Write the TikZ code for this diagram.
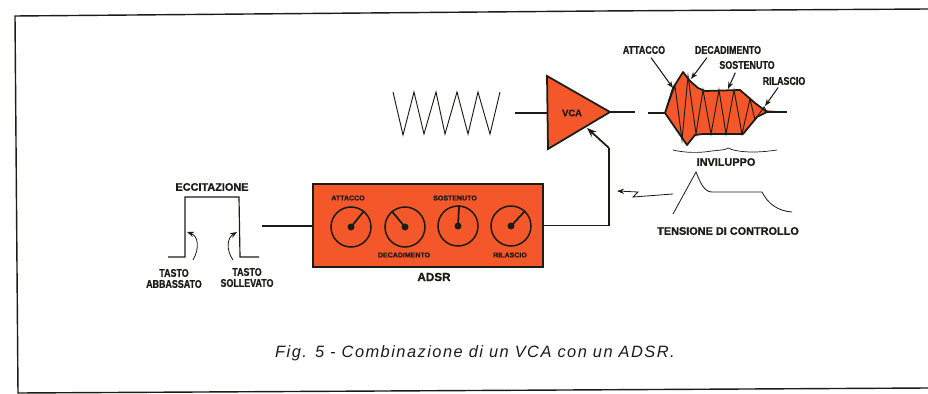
\documentclass[tikz,border=0pt]{standalone}
\usepackage{fontspec}
\setmainfont{Liberation Sans}[BoldFeatures={FakeBold=1}]
\newfontfamily\labelfont{Liberation Sans}[BoldFeatures={FakeStretch=0.8,FakeBold=1}]
\newfontfamily\capfont{Liberation Sans}[LetterSpace=9]
\usepackage{xcolor}
\usetikzlibrary{arrows.meta}
\definecolor{synthred}{HTML}{F4582A}
\definecolor{inkline}{HTML}{1C1C16}
\tikzset{
    wire/.style={draw=inkline, line width=1.5pt},
    thinwire/.style={draw=inkline, line width=0.8pt},
    pointer/.style={draw=inkline, line width=0.9pt, -{Stealth[length=6pt,width=4.5pt]}},
    biglabel/.style={font=\labelfont\bfseries\fontsize{9.5}{10}\selectfont, text=inkline, inner sep=1pt},
    widelabel/.style={font=\bfseries\fontsize{9.3}{10}\selectfont, text=inkline, inner sep=1pt},
    smalllabel/.style={font=\bfseries\fontsize{6}{7}\selectfont, text=inkline, inner sep=1pt},
    dial/.style={circle, draw=inkline, line width=1.3pt, minimum size=1.2cm, inner sep=0pt}
}
\begin{document}
\begin{tikzpicture}[x=0.03cm, y=-0.03cm]
    \useasboundingbox (0,0) rectangle (928,394);
    \draw[wire, line width=1.2pt] (928,9) -- (600,11) -- (15,16) -- (18,393) -- (928,388);
    % oscillator
    \draw[thinwire] (393,92) -- (403,135) -- (414,92) -- (424,134) -- (436,92) -- (445,134) -- (457,92) -- (468,134) -- (478,92) -- (490,134) -- (500,92);
    % vca
    \coordinate (vcaIn) at (515,113);
    \coordinate (vcaLeft) at (548,113);
    \coordinate (vcaTip) at (610,112);
    \coordinate (vcaOut) at (635,112);
    \coordinate (vcaBend) at (609,148);
    \coordinate (vcaCtl) at (587,128);
    \draw[wire] (vcaIn) -- (vcaLeft);
    \draw[wire] (vcaTip) -- (vcaOut);
    \draw[wire, fill=synthred, line join=miter] (547,76) -- (vcaTip) -- (548,149) -- cycle;
    \node[biglabel, font=\bfseries\fontsize{8}{9}\selectfont] (vca) at (572,113) {VCA};
    % envelope
    \coordinate (envIn) at (648,113);
    \coordinate (envStart) at (665,113);
    \coordinate (envEnd) at (767,112);
    \coordinate (envOut) at (787,112);
    \coordinate (envAtk) at (673,88);
    \coordinate (envDec) at (691,79);
    \coordinate (envSus) at (728,89);
    \coordinate (envRel) at (765,106);
    \draw[wire] (envIn) -- (envStart);
    \fill[synthred] (envEnd) -- (envOut) -- (765,110) -- cycle;
    \draw[wire] (envEnd) -- (envOut);
    \draw[wire, fill=synthred, line join=round] (envStart) -- (envAtk) -- (683,72) -- (690,81) -- (698,88) -- (705,91) -- (740,90) -- (755,103) -- (envEnd) -- (757,117) -- (743,134) -- (703,134) -- (695,135) -- (687,145) -- cycle;
    \draw[thinwire] (envStart) -- (675,86) -- (682,140) -- (688,76) -- (696,134) -- (703,90) -- (711,134) -- (719,90) -- (726,134) -- (734,90) -- (742,134) -- (750,99) -- (755,120) -- (764,107) -- (envEnd);
    \node[biglabel] (attaccoLabel) at (644,50) {ATTACCO};
    \node[biglabel] (decadLabel) at (728,50) {DECADIMENTO};
    \node[biglabel] (sostLabel) at (747,65) {SOSTENUTO};
    \node[biglabel] (rilLabel) at (784,81) {RILASCIO};
    \draw[pointer] ([xshift=6pt, yshift=-2pt]attaccoLabel.south) -- (envAtk);
    \draw[pointer] ([xshift=-18pt, yshift=-2pt]decadLabel.south) -- (envDec);
    \draw[pointer] ([xshift=-10pt, yshift=-2pt]sostLabel.south) -- (envSus);
    \draw[pointer] ([xshift=-5pt, yshift=-1pt]rilLabel.south) -- (envRel);
    \draw[thinwire, line width=0.6pt] (673,150) .. controls (685,153) and (700,153) .. (712,151) .. controls (720,150) and (726,150) .. (728,148) .. controls (732,150) and (740,152) .. (753,152) .. controls (762,152) and (770,151) .. (777,150);
    \node[widelabel] (invLabel) at (726,162) {INVILUPPO};
    % control voltage
    \coordinate (ctlFrom) at (673,194);
    \coordinate (ctlTo) at (617,191);
    \draw[thinwire, line width=0.7pt] (673,214) -- (696,172) .. controls (700,182) and (704,192) .. (712,192) -- (762,192) .. controls (768,204) and (778,211) .. (792,212);
    \draw[pointer, line width=0.7pt] (ctlFrom) -- (633,197) -- (638,192) -- (ctlTo);
    \node[widelabel] (tensLabel) at (728,231) {TENSIONE DI CONTROLLO};
    % adsr box
    \node[draw=inkline, line width=1.6pt, fill=synthred, minimum width=6.9cm, minimum height=2.49cm, inner sep=0pt] (adsr) at (428,225.5) {};
    \node[widelabel, font=\bfseries\fontsize{10}{11}\selectfont] (adsrLabel) at (434,277) {ADSR};
    \node[dial] (dialA) at (351,227) {};
    \node[dial] (dialD) at (405,227) {};
    \node[dial] (dialS) at (458,226) {};
    \node[dial] (dialR) at (511,226) {};
    \draw[wire] (dialA.center) -- (dialA.51);
    \draw[wire] (dialD.center) -- (dialD.130);
    \draw[wire] (dialS.center) -- (dialS.87);
    \draw[wire] (dialR.center) -- (dialR.47);
    \fill[inkline] (dialA.center) circle (3.5);
    \fill[inkline] (dialD.center) circle (3.5);
    \fill[inkline] (dialS.center) circle (3.5);
    \fill[inkline] (dialR.center) circle (3.5);
    \node[smalllabel] (dialALabel) at (348,198) {ATTACCO};
    \node[smalllabel] (dialDLabel) at (404,255) {DECADIMENTO};
    \node[smalllabel] (dialSLabel) at (455,198) {SOSTENUTO};
    \node[smalllabel] (dialRLabel) at (510,255) {RILASCIO};
    \coordinate (adsrIn) at (262,226);
    \draw[wire] (adsrIn) -- (adsr.west |- adsrIn);
    \draw[wire, line join=miter] (adsr.east) -- (609,225.5) -- (vcaBend);
    \draw[wire, -{Stealth[length=8pt,width=6pt]}] (vcaBend) -- (vcaCtl);
    % key pulse
    \draw[thinwire, line width=1pt] (168,257) -- (185,257) -- (185,197) -- (239,197) -- (240,257) -- (259,257);
    \draw[pointer, line width=0.7pt] (193,260) .. controls (200,248) and (198,236) .. (187,232);
    \draw[pointer, line width=0.7pt] (233,260) .. controls (226,250) and (227,238) .. (237,232);
    \node[widelabel] (eccLabel) at (212,187) {ECCITAZIONE};
    \node[biglabel] (tastoA) at (174,273) {TASTO};
    \node[biglabel] (abbLabel) at (174,284) {ABBASSATO};
    \node[biglabel] (tastoS) at (247,272) {TASTO};
    \node[biglabel] (solLabel) at (247,283) {SOLLEVATO};
    \node[font=\capfont\itshape\fontsize{14}{16}\selectfont, text=inkline] (caption) at (475,353) {Fig. 5 - Combinazione di un VCA con un ADSR.};
\end{tikzpicture}
\end{document}
